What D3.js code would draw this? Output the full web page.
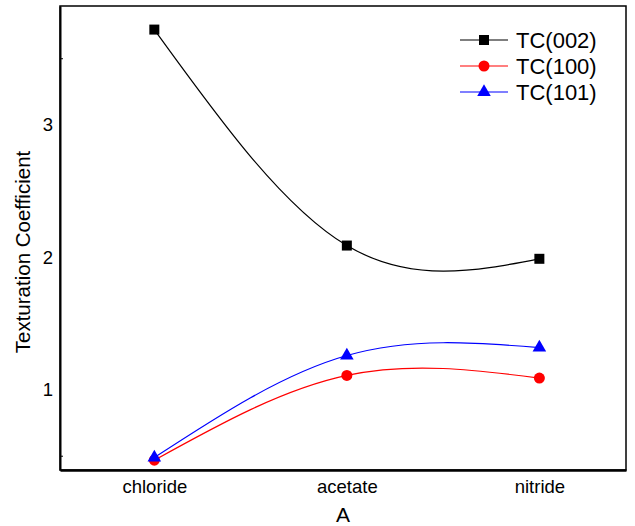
<!DOCTYPE html>
<html>
<head>
<meta charset="utf-8">
<script src="https://cdn.jsdelivr.net/npm/d3@7"></script>
<style>
  body { margin: 0; background: #fff; }
  text { font-family: "Liberation Sans", Arial, sans-serif; fill: #000; }
</style>
</head>
<body>
<div id="chart"></div>
<script>
// data
const categories = ["chloride", "acetate", "nitride"];
const tc002 = [3.72, 2.09, 1.99];
const tc100 = [0.47, 1.11, 1.09];
const tc101 = [0.49, 1.26, 1.32];
const yTicks = [1, 2, 3];
const yMinorTicks = [0.5, 3.5];
const seriesNames = ["TC(002)", "TC(100)", "TC(101)"];

const series = [
  { name: seriesNames[0], values: tc002, color: "#000", symbol: d3.symbolSquare, size: 100 },
  { name: seriesNames[1], values: tc100, color: "#ff0000", symbol: d3.symbolCircle, size: 95 },
  { name: seriesNames[2], values: tc101, color: "#0000ff", symbol: d3.symbolTriangle, size: 80 },
];

const W = 635, H = 526;
const margin = { top: 6, right: 9, bottom: 56, left: 60 };
const svg = d3.select("#chart").append("svg").attr("width", W).attr("height", H);

const x = d3.scaleLinear()
  .domain([-0.49, 2.45])
  .range([margin.left, W - margin.right]);
const y = d3.scaleLinear()
  .domain([0.396, 3.898])
  .range([H - margin.bottom, margin.top]);

// frame
svg.append("rect")
  .attr("x", margin.left).attr("y", margin.top)
  .attr("width", W - margin.right - margin.left)
  .attr("height", H - margin.bottom - margin.top)
  .attr("fill", "none").attr("stroke", "#000").attr("stroke-width", 1.5);

// y axis
const yAxis = svg.append("g")
  .attr("transform", `translate(${margin.left},0)`)
  .call(d3.axisLeft(y).tickValues(yTicks).tickSize(0).tickPadding(7).tickFormat(d3.format("d")));
yAxis.select(".domain").attr("stroke-width", 2);
yAxis.selectAll("text").style("font-size", "18.5px").style("font-family", "Liberation Sans, Arial, sans-serif");

svg.append("g")
  .selectAll("line")
  .data(yMinorTicks)
  .join("line")
  .attr("x1", margin.left).attr("x2", margin.left + 3)
  .attr("y1", d => y(d)).attr("y2", d => y(d))
  .attr("stroke", "#000").attr("stroke-width", 1);

// x axis
const xAxis = svg.append("g")
  .attr("transform", `translate(0,${H - margin.bottom})`)
  .call(d3.axisBottom(x).tickValues([0, 1, 2]).tickSize(0).tickPadding(10)
    .tickFormat(i => categories[i]));
xAxis.select(".domain").attr("stroke-width", 2.5);
xAxis.selectAll("text").style("font-size", "18.5px").style("font-family", "Liberation Sans, Arial, sans-serif");

// axis titles
svg.append("text")
  .attr("x", (margin.left + W - margin.right) / 2)
  .attr("y", 522)
  .attr("text-anchor", "middle")
  .style("font-size", "21px")
  .text("A");

svg.append("text")
  .attr("transform", `translate(30,252) rotate(-90)`)
  .attr("text-anchor", "middle")
  .style("font-size", "20.5px")
  .text("Texturation Coefficient");

// lines
const line = d3.line()
  .x((d, i) => x(i))
  .y(d => y(d))
  .curve(d3.curveNatural);

const g = svg.selectAll(".series")
  .data(series)
  .join("g")
  .attr("class", "series");

g.append("path")
  .attr("d", d => line(d.values))
  .attr("fill", "none")
  .attr("stroke", d => d.color)
  .attr("stroke-width", 1.2);

g.selectAll(".pt")
  .data(d => d.values.map((v, i) => ({ v, i, s: d })))
  .join("path")
  .attr("class", "pt")
  .attr("transform", d => `translate(${x(d.i)},${y(d.v)})`)
  .attr("d", d => d3.symbol(d.s.symbol, d.s.size)())
  .attr("fill", d => d.s.color);

// legend
const legend = svg.append("g").attr("transform", "translate(460,40)");
const item = legend.selectAll("g")
  .data(series)
  .join("g")
  .attr("transform", (d, i) => `translate(0,${i * 26})`);
item.append("line")
  .attr("x1", 0).attr("x2", 48)
  .attr("stroke", d => d.color).attr("stroke-width", 1.2);
item.append("path")
  .attr("transform", "translate(24,0)")
  .attr("d", d => d3.symbol(d.symbol, d.size)())
  .attr("fill", d => d.color);
item.append("text")
  .attr("x", 56).attr("y", 8)
  .style("font-size", "22px")
  .text(d => d.name);
</script>
</body>
</html>
